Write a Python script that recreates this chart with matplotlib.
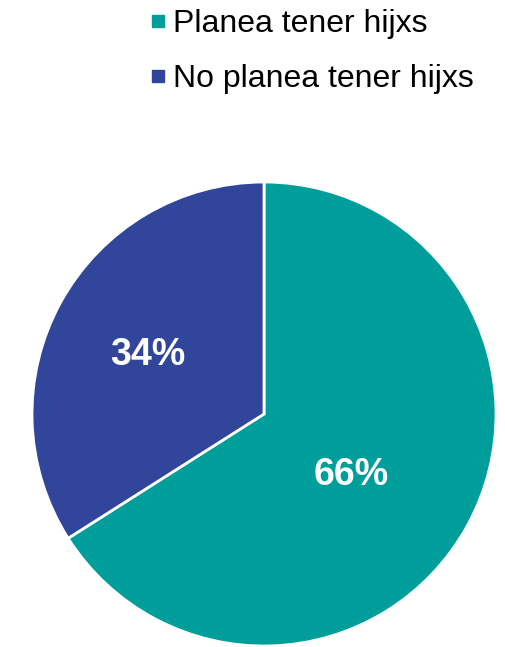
import numpy as np
import matplotlib.pyplot as plt
from matplotlib.lines import Line2D

labels = ["Planea tener hijxs", "No planea tener hijxs"]
values = [66, 34]
colors = ["#009E9B", "#31469B"]

plt.rcParams["font.family"] = ["Liberation Sans", "DejaVu Sans"]

fig = plt.figure(figsize=(5.06, 6.47), dpi=100)
ax = fig.add_axes([32 / 506, 1 / 647, 464 / 506, 464 / 647])

wedges, texts, autotexts = ax.pie(
    values,
    colors=colors,
    startangle=90,
    counterclock=False,
    radius=1,
    autopct="%d%%",
    wedgeprops={"edgecolor": "white", "linewidth": 2},
    textprops={"color": "white", "fontsize": 27, "fontweight": "bold"},
)
# label placement (distance from centre, angle in degrees)
label_pos = [(0.46, -35), (0.56, 153)]
for t, (r, a) in zip(autotexts, label_pos):
    t.set_position((r * np.cos(np.radians(a)), r * np.sin(np.radians(a))))

ax.set_xlim(-1, 1)
ax.set_ylim(-1, 1)
ax.set_aspect("equal")

handles = [
    Line2D([], [], marker="s", linestyle="none", markersize=9, color=c)
    for c in colors
]
fig.legend(
    handles,
    labels,
    loc="upper left",
    bbox_to_anchor=(120 / 506, 1.031),
    frameon=False,
    fontsize=23,
    handlelength=0.6,
    handletextpad=0.15,
    labelspacing=0.8,
)

fig.savefig("out.png", dpi=100)
